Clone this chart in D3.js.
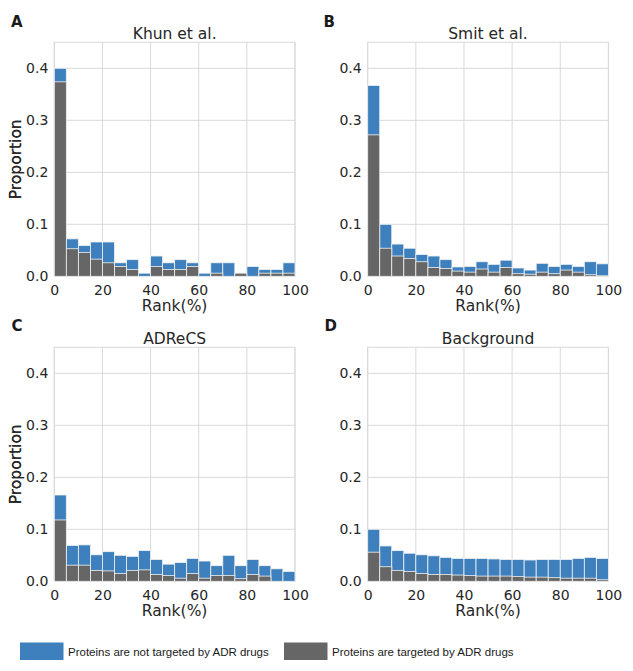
<!DOCTYPE html>
<html>
<head>
<meta charset="utf-8">
<script src="https://cdn.jsdelivr.net/npm/d3@7"></script>
<style>
  body { margin: 0; background: #fff; }
  svg { display: block; }
</style>
</head>
<body>
<div id="chart"></div>
<script>
// bins of Rank(%), 5% wide
var binStarts = [0, 5, 10, 15, 20, 25, 30, 35, 40, 45, 50, 55, 60, 65, 70, 75, 80, 85, 90, 95]

// total proportion per bin (blue top) and the part targeted by ADR drugs (gray)
var khunTotal = [0.400, 0.072, 0.059, 0.066, 0.066, 0.026, 0.032, 0.006, 0.039, 0.026, 0.032, 0.026, 0.006, 0.026, 0.026, 0.006, 0.019, 0.013, 0.013, 0.026]
var khunTargeted = [0.374, 0.053, 0.046, 0.033, 0.026, 0.019, 0.013, 0, 0.019, 0.013, 0.013, 0.019, 0, 0.006, 0, 0.006, 0, 0.006, 0.006, 0.006]

var smitTotal = [0.367, 0.100, 0.062, 0.054, 0.042, 0.039, 0.032, 0.018, 0.019, 0.028, 0.023, 0.031, 0.016, 0.012, 0.025, 0.019, 0.023, 0.019, 0.028, 0.024]
var smitTargeted = [0.272, 0.054, 0.039, 0.034, 0.028, 0.017, 0.015, 0.010, 0.008, 0.014, 0.008, 0.017, 0.005, 0.004, 0.008, 0.005, 0.012, 0.008, 0.003, 0.001]

var adrecsTotal = [0.166, 0.069, 0.070, 0.051, 0.057, 0.050, 0.048, 0.059, 0.042, 0.033, 0.036, 0.044, 0.039, 0.030, 0.050, 0.030, 0.042, 0.030, 0.024, 0.019]
var adrecsTargeted = [0.118, 0.031, 0.031, 0.021, 0.020, 0.015, 0.021, 0.022, 0.013, 0.011, 0.006, 0.015, 0.006, 0.011, 0.011, 0.005, 0.013, 0.010, 0, 0]

var bgTotal = [0.100, 0.068, 0.059, 0.054, 0.051, 0.049, 0.046, 0.044, 0.044, 0.044, 0.043, 0.042, 0.042, 0.041, 0.042, 0.042, 0.042, 0.044, 0.046, 0.044]
var bgTargeted = [0.056, 0.028, 0.021, 0.019, 0.015, 0.013, 0.013, 0.012, 0.011, 0.010, 0.010, 0.010, 0.009, 0.008, 0.008, 0.007, 0.006, 0.006, 0.006, 0.003]

var panelTitles = ['Khun et al.', 'Smit et al.', 'ADReCS', 'Background']
var panelLetters = ['A', 'B', 'C', 'D']
var xTicks = [0, 20, 40, 60, 80, 100]
var yTicks = [0, 0.1, 0.2, 0.3, 0.4]
var legendLabels = ['Proteins are not targeted by ADR drugs', 'Proteins are targeted by ADR drugs']

var blue = '#3d80bd'
var gray = '#666666'
var gridColor = '#d9d9d9'

var panels = [
    { total: khunTotal, targeted: khunTargeted, left: 54.3, top: 42.3, letterX: 11, letterY: 26.7 },
    { total: smitTotal, targeted: smitTargeted, left: 367.7, top: 42.3, letterX: 323.5, letterY: 26.7 },
    { total: adrecsTotal, targeted: adrecsTargeted, left: 54.3, top: 347.3, letterX: 11.5, letterY: 331.3 },
    { total: bgTotal, targeted: bgTargeted, left: 367.7, top: 347.3, letterX: 324.5, letterY: 331.3 }
]

var plotW = 240.7
var plotH = 234

var svg = d3.select('#chart')
    .append('svg')
    .attr('width', 633)
    .attr('height', 671)
    .style('font-family', '"DejaVu Sans", sans-serif')

var x = d3.scaleLinear().domain([0, 100]).range([0, plotW])
var y = d3.scaleLinear().domain([0, 0.45]).range([plotH, 0])

panels.forEach(function (p, i) {
    var g = svg.append('g')
        .attr('transform', `translate(${p.left},${p.top})`)

    // grid
    g.selectAll('.vgrid')
        .data(xTicks)
        .enter()
        .append('line')
        .attr('x1', d => x(d)).attr('x2', d => x(d))
        .attr('y1', 0).attr('y2', plotH)
        .attr('stroke', gridColor)
        .attr('stroke-width', 1)
    g.selectAll('.hgrid')
        .data(yTicks)
        .enter()
        .append('line')
        .attr('x1', 0).attr('x2', plotW)
        .attr('y1', d => y(d)).attr('y2', d => y(d))
        .attr('stroke', gridColor)
        .attr('stroke-width', 1)

    // frame
    g.append('rect')
        .attr('width', plotW)
        .attr('height', plotH)
        .attr('fill', 'none')
        .attr('stroke', gridColor)
        .attr('stroke-width', 1)

    // blue bars (total)
    g.selectAll('.tot')
        .data(binStarts)
        .enter()
        .append('rect')
        .attr('x', d => x(d))
        .attr('width', d => x(d + 5) - x(d))
        .attr('y', (d, k) => y(p.total[k]))
        .attr('height', (d, k) => y(0) - y(p.total[k]))
        .attr('fill', blue)
        .attr('stroke', '#f2f2f2')
        .attr('stroke-width', 0.8)

    // gray bars (targeted)
    g.selectAll('.tgt')
        .data(binStarts)
        .enter()
        .append('rect')
        .attr('x', d => x(d))
        .attr('width', d => x(d + 5) - x(d))
        .attr('y', (d, k) => y(p.targeted[k]))
        .attr('height', (d, k) => y(0) - y(p.targeted[k]))
        .attr('fill', gray)
        .attr('stroke', '#f2f2f2')
        .attr('stroke-width', 0.8)
        .style('display', (d, k) => p.targeted[k] > 0 ? null : 'none')

    // axes (labels only)
    var xAxis = g.append('g')
        .attr('transform', `translate(0,${plotH})`)
        .call(d3.axisBottom(x).tickValues(xTicks).tickSize(0).tickPadding(9))
    var yAxis = g.append('g')
        .call(d3.axisLeft(y).tickValues(yTicks).tickFormat(d3.format('.1f')).tickSize(0).tickPadding(6))
    ;[xAxis, yAxis].forEach(function (a) {
        a.select('.domain').remove()
        a.selectAll('text')
            .style('font-family', '"DejaVu Sans", sans-serif')
            .style('font-size', '14px')
            .attr('fill', '#262626')
    })

    // title
    g.append('text')
        .attr('x', plotW / 2)
        .attr('y', -3.5)
        .attr('text-anchor', 'middle')
        .style('font-size', '15.5px')
        .attr('fill', '#262626')
        .text(panelTitles[i])

    // axis labels
    g.append('text')
        .attr('x', plotW / 2)
        .attr('y', plotH + 34.5)
        .attr('text-anchor', 'middle')
        .style('font-size', '15.5px')
        .attr('fill', '#262626')
        .text('Rank(%)')
    g.append('text')
        .attr('transform', `translate(${21.3 - p.left},${plotH / 2}) rotate(-90)`)
        .attr('text-anchor', 'middle')
        .style('font-size', '15.5px')
        .attr('fill', '#262626')
        .text('Proportion')

    // panel letter
    svg.append('text')
        .attr('x', p.letterX)
        .attr('y', p.letterY)
        .style('font-size', '15px')
        .style('font-weight', 'bold')
        .attr('fill', '#1a1a1a')
        .text(panelLetters[i])
})

// legend
var legend = svg.append('g')
var legendItems = [
    { label: legendLabels[0], color: blue, x: 20 },
    { label: legendLabels[1], color: gray, x: 284 }
]
legendItems.forEach(function (d) {
    legend.append('rect')
        .attr('x', d.x)
        .attr('y', 642.5)
        .attr('width', 43.5)
        .attr('height', 17.5)
        .attr('fill', d.color)
    legend.append('text')
        .attr('x', d.x + 48)
        .attr('y', 655.5)
        .style('font-family', '"Liberation Sans", Arial, sans-serif')
        .style('font-size', '11.5px')
        .attr('fill', '#1a1a1a')
        .text(d.label)
})
</script>
</body>
</html>
